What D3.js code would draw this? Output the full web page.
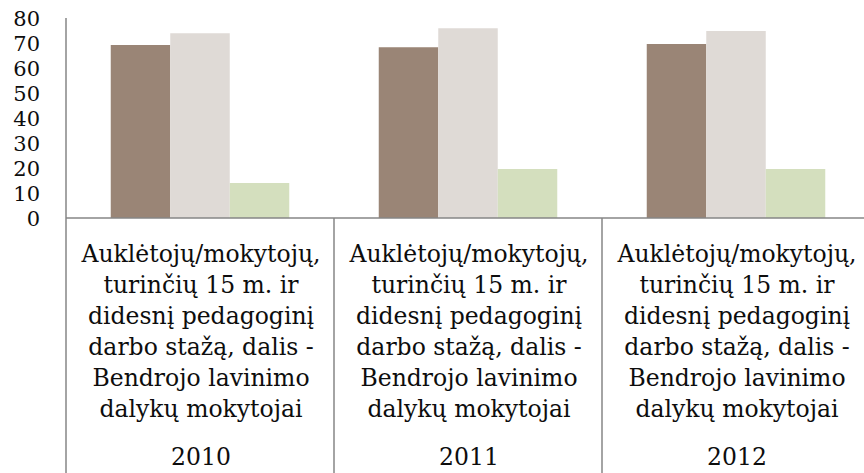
<!DOCTYPE html>
<html>
<head>
<meta charset="utf-8">
<script src="https://cdn.jsdelivr.net/npm/d3@7"></script>
<style>
	body { margin: 0; background: #fff; }
	svg { display: block; }
	text { font-family: "DejaVu Serif", serif; fill: #0d0d0d; }
</style>
</head>
<body>
<svg width="864" height="473"></svg>
<script>
let years = ['2010', '2011', '2012'];
let series = ['s1', 's2', 's3'];
let values1 = [69.2, 68.3, 69.6];
let values2 = [73.9, 75.9, 74.8];
let values3 = [14.0, 19.6, 19.6];
let yTicks = [0, 10, 20, 30, 40, 50, 60, 70, 80];
let labelLines = [
	'Auklėtojų/mokytojų,',
	'turinčių 15 m. ir',
	'didesnį pedagoginį',
	'darbo stažą, dalis -',
	'Bendrojo lavinimo',
	'dalykų mokytojai'
];
let colors = ['#9a8576', '#dfdad6', '#d4dfbe'];

let svg = d3.select("svg"),
		width = +svg.attr("width"),
		height = +svg.attr("height");

const axisColor = '#868686';

const x = d3.scaleBand()
	.domain(years)
	.range([66, 870])
	.padding(0);

const xInner = d3.scaleBand()
	.domain(series)
	.range([0, x.bandwidth()])
	.paddingInner(0)
	.paddingOuter(0.752);

const y = d3.scaleLinear()
	.domain([0, 80])
	.range([218, 18]);

let rows = years.map((yr, i) => ({
	year: yr,
	vals: [values1[i], values2[i], values3[i]]
}));

// bars
const groups = svg.append('g')
	.selectAll('g')
	.data(rows)
	.enter().append('g')
		.attr('transform', d => 'translate(' + x(d.year) + ',0)');

groups.selectAll('rect')
	.data(d => d.vals.map((v, j) => ({ key: series[j], value: v, j: j })))
	.enter().append('rect')
		.attr('x', d => xInner(d.key))
		.attr('width', xInner.bandwidth())
		.attr('y', d => y(d.value))
		.attr('height', d => y(0) - y(d.value))
		.attr('fill', d => colors[d.j]);

// y axis labels
const yAxis = d3.axisLeft(y)
	.tickValues(yTicks)
	.tickSize(0)
	.tickPadding(0);

svg.append('g')
	.attr('transform', 'translate(40,0)')
	.call(yAxis)
	.call(g => g.select('.domain').remove())
	.selectAll('text')
		.attr('font-family', '"DejaVu Serif", serif')
		.attr('font-size', 21)
		.attr('fill', '#0d0d0d')
		.attr('dy', '0.36em');

// axis lines
svg.append('line')
	.attr('x1', 66).attr('x2', 66)
	.attr('y1', y(80)).attr('y2', height)
	.attr('stroke', axisColor)
	.attr('stroke-width', 1.5);

svg.append('line')
	.attr('x1', 66).attr('x2', width)
	.attr('y1', y(0)).attr('y2', y(0))
	.attr('stroke', axisColor)
	.attr('stroke-width', 1.5);

// category separators
years.slice(1).concat(['end']).forEach(yr => {
	let xp = yr === 'end' ? x.range()[1] : x(yr);
	svg.append('line')
		.attr('x1', xp).attr('x2', xp)
		.attr('y1', y(0)).attr('y2', height)
		.attr('stroke', axisColor)
		.attr('stroke-width', 1.5);
});

// category labels
const cat = svg.append('g')
	.selectAll('g')
	.data(years)
	.enter().append('g')
		.attr('transform', d => 'translate(' + (x(d) + x.bandwidth() / 2 + 1) + ',0)');

cat.each(function(d) {
	let g = d3.select(this);
	labelLines.forEach((ln, k) => {
		g.append('text')
			.attr('text-anchor', 'middle')
			.attr('y', 262 + k * 31)
			.attr('font-size', 23.5)
			.text(ln);
	});
	g.append('text')
		.attr('text-anchor', 'middle')
		.attr('y', 465)
		.attr('font-size', 23.5)
		.text(d);
});
</script>
</body>
</html>
